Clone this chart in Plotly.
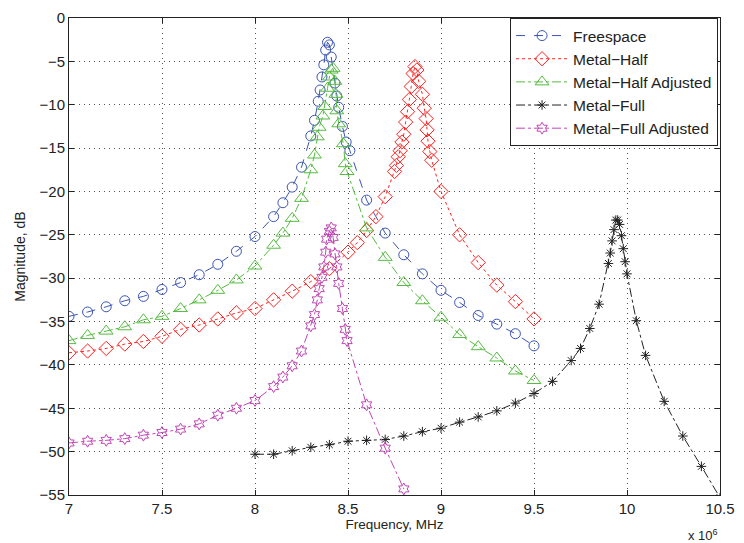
import plotly.graph_objects as go

# Frequencies in MHz (axis shows x 10^6 Hz)
free_x = [7.0, 7.1, 7.2, 7.3, 7.4, 7.5, 7.6, 7.7, 7.8, 7.9, 8.0, 8.1, 8.15, 8.2, 8.25, 8.3, 8.32, 8.34, 8.35, 8.36,
          8.37, 8.38, 8.39, 8.40, 8.41, 8.43, 8.44, 8.45, 8.47, 8.49, 8.51, 8.6, 8.7, 8.8, 8.9, 9.0, 9.1, 9.2, 9.3, 9.4, 9.5]
free_y = [-34.4, -33.9, -33.3, -32.6, -32.1, -31.3, -30.5, -29.6, -28.4, -26.9, -25.2, -22.9, -21.3, -19.5, -17.2,
          -13.6, -11.8, -9.6, -8.3, -6.8, -5.4, -3.7, -2.8, -3.1, -4.5, -7.5, -9.0, -10.3, -12.5, -14.3, -15.3,
          -21.0, -24.8, -27.3, -29.5, -31.4, -32.8, -34.3, -35.3, -36.4, -37.8]

half_x = [7.0, 7.1, 7.2, 7.3, 7.4, 7.5, 7.6, 7.7, 7.8, 7.9, 8.0, 8.1, 8.2, 8.3, 8.4, 8.5, 8.55, 8.6, 8.65, 8.7,
          8.75, 8.76, 8.77, 8.78, 8.79, 8.80, 8.81, 8.82, 8.83, 8.84, 8.85, 8.86, 8.87, 8.88, 8.90, 8.91, 8.92,
          8.925, 8.93, 8.94, 8.95, 9.0, 9.1, 9.2, 9.3, 9.4, 9.5]
half_y = [-38.6, -38.4, -38.1, -37.6, -37.3, -36.7, -35.9, -35.4, -34.7, -34.0, -33.5, -32.5, -31.5, -30.4, -28.9,
          -27.0, -25.9, -24.5, -22.9, -20.6, -17.7, -17.0, -16.0, -15.3, -14.3, -13.4, -12.0, -10.8, -9.4, -7.9,
          -6.4, -5.6, -6.0, -7.3, -8.8, -10.4, -11.6, -12.9, -14.2, -15.4, -16.4, -20.0, -25.0, -28.2, -30.8,
          -32.7, -34.7]

halfadj_x = [7.0, 7.1, 7.2, 7.3, 7.4, 7.5, 7.6, 7.7, 7.8, 7.9, 8.0, 8.1, 8.15, 8.2, 8.25, 8.3, 8.32, 8.335, 8.345,
             8.365, 8.375, 8.39, 8.40, 8.41, 8.42, 8.43, 8.435, 8.44, 8.45, 8.475, 8.485, 8.495, 8.6, 8.7, 8.8,
             8.9, 9.0, 9.1, 9.2, 9.3, 9.4, 9.5]
halfadj_y = [-37.2, -36.6, -36.1, -35.6, -34.8, -34.4, -33.5, -32.5, -31.4, -30.2, -28.6, -26.2, -24.8, -23.1,
             -20.8, -17.5, -15.8, -13.7, -12.6, -11.3, -10.2, -8.1, -6.8, -6.0, -5.8, -7.3, -8.8, -10.7, -12.2,
             -14.5, -16.8, -17.7, -24.2, -27.6, -30.5, -32.6, -34.5, -36.5, -37.9, -39.2, -40.7, -41.8]

full_x = [8.0, 8.1, 8.2, 8.3, 8.4, 8.5, 8.6, 8.7, 8.8, 8.9, 9.0, 9.1, 9.2, 9.3, 9.4, 9.5, 9.6, 9.7, 9.75, 9.8,
          9.85, 9.9, 9.91, 9.92, 9.93, 9.94, 9.95, 9.96, 9.97, 9.98, 9.99, 10.0, 10.05, 10.1, 10.2, 10.3, 10.4, 10.5]
full_y = [-50.3, -50.3, -49.9, -49.5, -49.2, -48.8, -48.7, -48.6, -48.2, -47.7, -47.3, -46.6, -46.0, -45.3, -44.4,
          -43.3, -41.9, -39.5, -38.1, -35.8, -33.0, -28.3, -27.1, -25.7, -24.4, -23.3, -23.3, -23.8, -25.1, -26.6,
          -28.1, -29.5, -34.9, -38.9, -44.2, -48.2, -51.7, -55.3]

fulladj_x = [7.0, 7.1, 7.2, 7.3, 7.4, 7.5, 7.6, 7.7, 7.8, 7.9, 8.0, 8.1, 8.15, 8.2, 8.25, 8.3, 8.32, 8.335, 8.345,
             8.36, 8.37, 8.38, 8.385, 8.40, 8.41, 8.42, 8.43, 8.44, 8.45, 8.47, 8.485, 8.495, 8.6, 8.7, 8.8]
fulladj_y = [-49.0, -48.8, -48.7, -48.5, -48.1, -47.8, -47.4, -46.8, -45.8, -45.0, -44.1, -42.5, -41.4, -40.1,
             -38.4, -35.5, -34.2, -32.5, -31.2, -29.9, -28.7, -27.0, -25.5, -24.6, -24.2, -25.3, -27.2, -28.7,
             -30.6, -33.5, -35.9, -37.2, -44.6, -49.6, -54.3]

series = [
    ("Freespace", free_x, free_y, "#3a54b4", "dash", "circle-open", 10),
    ("Metal\u2212Half", half_x, half_y, "#ff2020", "dot", "diamond-open", 11),
    ("Metal\u2212Half Adjusted", halfadj_x, halfadj_y, "#55bb40", "dashdot", "triangle-up-open", 12),
    ("Metal\u2212Full", full_x, full_y, "#222222", "dashdot", "asterisk-open", 8),
    ("Metal\u2212Full Adjusted", fulladj_x, fulladj_y, "#c044b4", "dashdot", "hexagram-open", 9),
]

fig = go.Figure()
for name, xs, ys, col, dash, sym, sz in series:
    fig.add_trace(go.Scatter(
        x=xs, y=ys, name=name, mode="lines+markers",
        line=dict(color=col, width=1, dash=dash),
        marker=dict(symbol=sym, size=sz, color=col, line=dict(color=col, width=1)),
    ))

fig.update_layout(
    width=744, height=543,
    margin=dict(l=69, r=17, t=9, b=48),
    paper_bgcolor="white", plot_bgcolor="white",
    font=dict(family="Liberation Sans, Arial, sans-serif", size=15, color="#222"),
    showlegend=True,
    legend=dict(x=0.997, y=1.0, xanchor="right", yanchor="top",
                bordercolor="#222", borderwidth=1, bgcolor="white",
                font=dict(size=15.5), tracegroupgap=0, itemwidth=52),
)
fig.update_xaxes(
    range=[7, 10.5], dtick=0.5, tick0=7,
    showline=True, linecolor="#222", linewidth=1, mirror="allticks",
    ticks="inside", ticklen=5, tickcolor="#222",
    showgrid=True, gridcolor="#555", gridwidth=1, griddash="1px,4px",
    zeroline=False, tickfont=dict(size=15),
    title=dict(text="Frequency, MHz", font=dict(size=13.5), standoff=2),
)
fig.update_yaxes(
    range=[-55, 0], dtick=5,
    showline=True, linecolor="#222", linewidth=1, mirror="allticks",
    ticks="inside", ticklen=5, tickcolor="#222",
    showgrid=True, gridcolor="#555", gridwidth=1, griddash="1px,4px",
    zeroline=False, tickfont=dict(size=15),
    title=dict(text="Magnitude, dB", font=dict(size=14), standoff=10),
)
fig.add_annotation(
    text="x 10<sup>6</sup>", xref="paper", yref="paper", x=1.0, y=0, yshift=-30,
    xanchor="right", yanchor="top", showarrow=False, font=dict(size=13, color="#222"),
)
fig.write_html("out.html")
